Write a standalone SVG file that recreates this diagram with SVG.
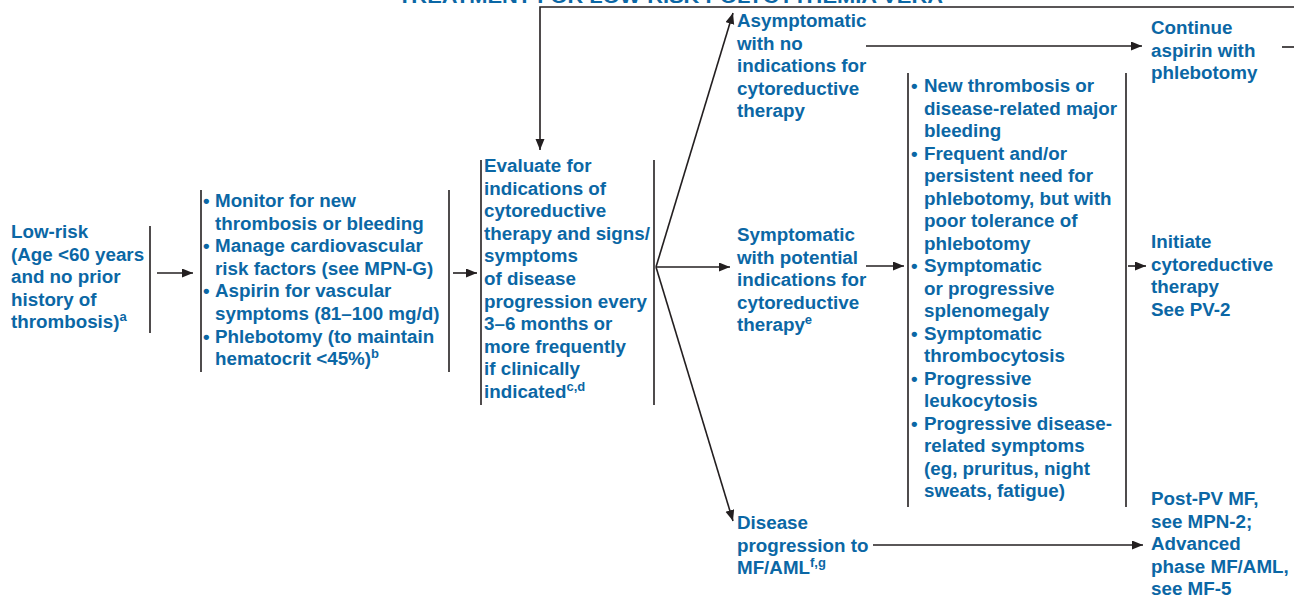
<svg xmlns="http://www.w3.org/2000/svg" width="1294" height="598" viewBox="0 0 1294 598">
<style>
  text { font-family: "Liberation Sans", Arial, sans-serif; font-weight: bold; font-size: 18.8px; fill: #0b67a5; }
  .sup { font-size: 13px; }
  .ln { stroke: #231f20; stroke-width: 1.6; fill: none; }
  .ar { stroke: #231f20; stroke-width: 1.6; fill: none; marker-end: url(#ah); }
</style>
<defs>
  <marker id="ah" markerUnits="userSpaceOnUse" markerWidth="12" markerHeight="10" refX="11" refY="4.5" orient="auto">
    <path d="M0,0 L11,4.5 L0,9 z" fill="#231f20"/>
  </marker>
</defs>
<rect width="1294" height="598" fill="#ffffff"/>
<text x="398" y="3" textLength="545" lengthAdjust="spacingAndGlyphs">TREATMENT FOR LOW-RISK POLYCYTHEMIA VERA</text>

<g id="connectors">
  <line class="ln" x1="150" y1="226" x2="150" y2="333"/>
  <line class="ar" x1="157" y1="273" x2="193" y2="273"/>
  <line class="ln" x1="201" y1="190" x2="201" y2="372"/>
  <line class="ln" x1="449" y1="190" x2="449" y2="372"/>
  <line class="ar" x1="453" y1="273" x2="477" y2="273"/>
  <line class="ln" x1="481" y1="160" x2="481" y2="405"/>
  <line class="ln" x1="654" y1="160" x2="654" y2="405"/>
  <line class="ar" x1="656" y1="267" x2="733" y2="13"/>
  <line class="ar" x1="656" y1="267" x2="730" y2="267"/>
  <line class="ar" x1="656" y1="267" x2="733" y2="521"/>
  <line class="ar" x1="866" y1="46" x2="1142" y2="46"/>
  <line class="ln" x1="1282" y1="47" x2="1294" y2="47"/>
  <polyline class="ar" points="1294,7 540,7 540,150"/>
  <line class="ar" x1="866" y1="266" x2="904" y2="266"/>
  <line class="ln" x1="908" y1="73" x2="908" y2="507"/>
  <line class="ln" x1="1126" y1="73" x2="1126" y2="507"/>
  <line class="ar" x1="1128" y1="266" x2="1146" y2="266"/>
  <line class="ar" x1="873" y1="545" x2="1143" y2="545"/>
</g>

<g id="lowrisk">
  <text x="11" y="238">Low-risk</text>
  <text x="11" y="260.5">(Age &lt;60 years</text>
  <text x="11" y="283">and no prior</text>
  <text x="11" y="305.5">history of</text>
  <text x="11" y="328">thrombosis)<tspan class="sup" dy="-7">a</tspan></text>
</g>

<g id="monitor">
  <text x="203" y="207">•</text><text x="215" y="207">Monitor for new</text>
  <text x="215" y="229.6">thrombosis or bleeding</text>
  <text x="203" y="252.2">•</text><text x="215" y="252.2">Manage cardiovascular</text>
  <text x="215" y="274.8">risk factors (see MPN-G)</text>
  <text x="203" y="297.4">•</text><text x="215" y="297.4">Aspirin for vascular</text>
  <text x="215" y="320">symptoms (81–100 mg/d)</text>
  <text x="203" y="342.6">•</text><text x="215" y="342.6">Phlebotomy (to maintain</text>
  <text x="215" y="365.2">hematocrit &lt;45%)<tspan class="sup" dy="-7">b</tspan></text>
</g>

<g id="evaluate">
  <text x="484" y="172">Evaluate for</text>
  <text x="484" y="194.6">indications of</text>
  <text x="484" y="217.2">cytoreductive</text>
  <text x="484" y="239.8">therapy and signs/</text>
  <text x="484" y="262.4">symptoms</text>
  <text x="484" y="285">of disease</text>
  <text x="484" y="307.6">progression every</text>
  <text x="484" y="330.2">3–6 months or</text>
  <text x="484" y="352.8">more frequently</text>
  <text x="484" y="375.4">if clinically</text>
  <text x="484" y="398">indicated<tspan class="sup" dy="-7">c,d</tspan></text>
</g>

<g id="asymptomatic">
  <text x="737" y="27">Asymptomatic</text>
  <text x="737" y="49.5">with no</text>
  <text x="737" y="72">indications for</text>
  <text x="737" y="94.5">cytoreductive</text>
  <text x="737" y="117">therapy</text>
</g>

<g id="symptomatic">
  <text x="737" y="241">Symptomatic</text>
  <text x="737" y="263.5">with potential</text>
  <text x="737" y="286">indications for</text>
  <text x="737" y="308.5">cytoreductive</text>
  <text x="737" y="331">therapy<tspan class="sup" dy="-7">e</tspan></text>
</g>

<g id="progression">
  <text x="737" y="529">Disease</text>
  <text x="737" y="551.5">progression to</text>
  <text x="737" y="574">MF/AML<tspan class="sup" dy="-7">f,g</tspan></text>
</g>

<g id="indications">
  <text x="911" y="92">•</text><text x="924" y="92">New thrombosis or</text>
  <text x="924" y="114.5">disease-related major</text>
  <text x="924" y="137">bleeding</text>
  <text x="911" y="159.5">•</text><text x="924" y="159.5">Frequent and/or</text>
  <text x="924" y="182">persistent need for</text>
  <text x="924" y="204.5">phlebotomy, but with</text>
  <text x="924" y="227">poor tolerance of</text>
  <text x="924" y="249.5">phlebotomy</text>
  <text x="911" y="272">•</text><text x="924" y="272">Symptomatic</text>
  <text x="924" y="294.5">or progressive</text>
  <text x="924" y="317">splenomegaly</text>
  <text x="911" y="339.5">•</text><text x="924" y="339.5">Symptomatic</text>
  <text x="924" y="362">thrombocytosis</text>
  <text x="911" y="384.5">•</text><text x="924" y="384.5">Progressive</text>
  <text x="924" y="407">leukocytosis</text>
  <text x="911" y="429.5">•</text><text x="924" y="429.5">Progressive disease-</text>
  <text x="924" y="452">related symptoms</text>
  <text x="924" y="474.5">(eg, pruritus, night</text>
  <text x="924" y="497">sweats, fatigue)</text>
</g>

<g id="continue">
  <text x="1151" y="34">Continue</text>
  <text x="1151" y="56.5">aspirin with</text>
  <text x="1151" y="79">phlebotomy</text>
</g>

<g id="initiate">
  <text x="1151" y="248">Initiate</text>
  <text x="1151" y="270.5">cytoreductive</text>
  <text x="1151" y="293">therapy</text>
  <text x="1151" y="315.5">See PV-2</text>
</g>

<g id="postpv">
  <text x="1151" y="505">Post-PV MF,</text>
  <text x="1151" y="527.5">see MPN-2;</text>
  <text x="1151" y="550">Advanced</text>
  <text x="1151" y="572.5">phase MF/AML,</text>
  <text x="1151" y="595">see MF-5</text>
</g>
</svg>
